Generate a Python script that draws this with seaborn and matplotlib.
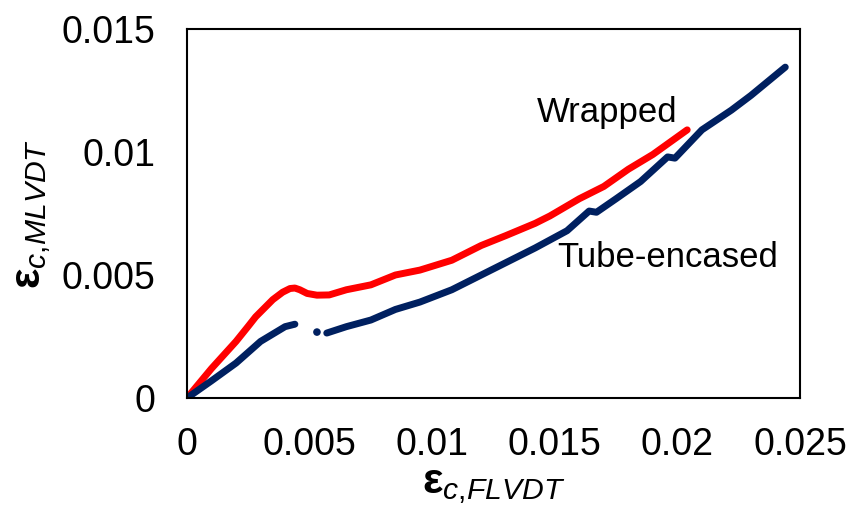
import matplotlib
matplotlib.use('Agg')
import matplotlib.pyplot as plt
import seaborn as sns
import numpy as np

# ---- data ----
wrapped_x = [0.0, 0.001, 0.002, 0.0025, 0.0028, 0.0031, 0.0035, 0.0039, 0.0042, 0.0044,
             0.0046, 0.0049, 0.0053, 0.0058, 0.0065, 0.0075, 0.0085, 0.0095, 0.0108, 0.012,
             0.013, 0.0142, 0.0148, 0.016, 0.017, 0.018, 0.019, 0.0204]
wrapped_y = [0.0, 0.0012, 0.0023, 0.00292, 0.0033, 0.0036, 0.0040, 0.0043, 0.00445, 0.00447,
             0.0044, 0.00425, 0.00418, 0.00419, 0.0044, 0.0046, 0.0050, 0.0052, 0.0056, 0.0062,
             0.0066, 0.0071, 0.0074, 0.0081, 0.0086, 0.0093, 0.0099, 0.0109]

tube_x1 = [0.0, 0.001, 0.002, 0.003, 0.0035, 0.004, 0.0044]
tube_y1 = [0.0, 0.0007, 0.00142, 0.0023, 0.0026, 0.0029, 0.0030]
tube_dot_x = [0.0053]
tube_dot_y = [0.00268]
tube_x2 = [0.0057, 0.0065, 0.0075, 0.0085, 0.0095, 0.0108, 0.012, 0.013, 0.0142, 0.0155,
           0.0164, 0.0167, 0.0175, 0.0185, 0.0196, 0.0199, 0.021, 0.0222, 0.0230, 0.0244]
tube_y2 = [0.00264, 0.0029, 0.00317, 0.0036, 0.0039, 0.0044, 0.0050, 0.0055, 0.0061, 0.0068,
           0.0076, 0.00755, 0.0081, 0.0088, 0.0098, 0.00975, 0.0109, 0.0117, 0.0123, 0.01345]

x_ticks = [0, 0.005, 0.01, 0.015, 0.02, 0.025]
x_tick_labels = ['0', '0.005', '0.01', '0.015', '0.02', '0.025']
y_ticks = [0, 0.005, 0.01, 0.015]
y_tick_labels = ['0', '0.005', '0.01', '0.015']

RED = '#FF0000'
NAVY = '#002060'

sns.set_theme(style='white')
plt.rcParams['font.family'] = ['Liberation Sans', 'DejaVu Sans']
plt.rcParams['mathtext.fontset'] = 'custom'
plt.rcParams['mathtext.rm'] = 'Liberation Sans'
plt.rcParams['mathtext.it'] = 'Liberation Sans:italic'
plt.rcParams['mathtext.bf'] = 'Liberation Sans:bold'

fig = plt.figure(figsize=(8.52, 5.14), dpi=100)
ax = fig.add_axes([187 / 852, 1 - 398 / 514, 613 / 852, 369 / 514])

lw = 5
sns.lineplot(x=wrapped_x, y=wrapped_y, ax=ax, color=RED, lw=lw, sort=False,
             estimator=None, solid_capstyle='round', solid_joinstyle='round')
sns.lineplot(x=tube_x1, y=tube_y1, ax=ax, color=NAVY, lw=lw, sort=False,
             estimator=None, solid_capstyle='round', solid_joinstyle='round')
sns.lineplot(x=tube_x2, y=tube_y2, ax=ax, color=NAVY, lw=lw, sort=False,
             estimator=None, solid_capstyle='round', solid_joinstyle='round')
sns.scatterplot(x=tube_dot_x, y=tube_dot_y, ax=ax, color=NAVY, s=30, edgecolor='none')

ax.set_xlim(0, 0.025)
ax.set_ylim(0, 0.015)
ax.set_xticks(x_ticks)
ax.set_xticklabels(x_tick_labels)
ax.set_yticks(y_ticks)
ax.set_yticklabels(y_tick_labels)

for s in ax.spines.values():
    s.set_visible(True)
    s.set_color('black')
    s.set_linewidth(1.5)

ax.tick_params(axis='both', which='major', direction='out', length=7, width=1.5,
               colors='black', labelsize=27)
ax.tick_params(axis='x', pad=14)
ax.tick_params(axis='y', pad=16)

ax.set_xlabel(r'$\mathbf{\varepsilon}_{c{,}FLVDT}$', fontsize=31, color='black', labelpad=2)
ax.set_ylabel(r'$\mathbf{\varepsilon}_{c{,}MLVDT}$', fontsize=31, color='black', labelpad=6)

ax.text(0.01425, 0.01122, 'Wrapped', fontsize=25, color='black', ha='left', va='baseline')
ax.text(0.01511, 0.005325, 'Tube-encased', fontsize=25, color='black', ha='left', va='baseline')

fig.savefig('out.png', dpi=100)
